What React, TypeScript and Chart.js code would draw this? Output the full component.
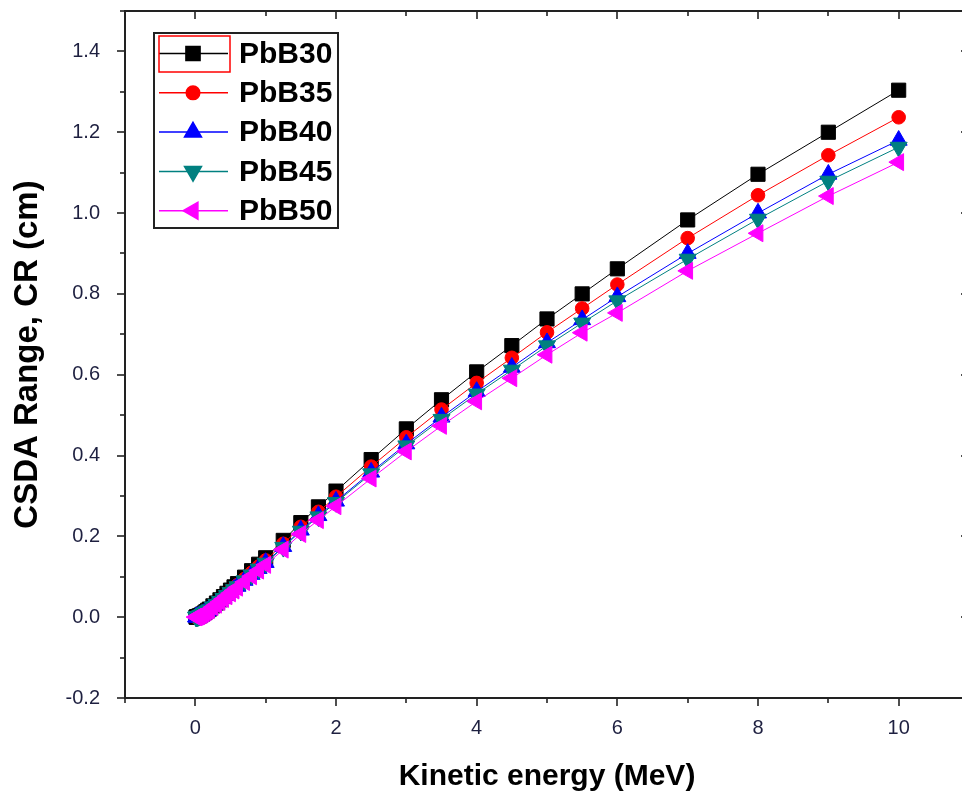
import React, { useEffect, useRef } from 'react';
import { Chart, registerables } from 'chart.js';
import { drawPoint } from 'chart.js/helpers';

Chart.register(...registerables);

// Kinetic energy (MeV)
const energies = [
  0.01, 0.015, 0.02, 0.03, 0.04, 0.05, 0.06, 0.08, 0.1,
  0.125, 0.15, 0.175, 0.2, 0.25, 0.3, 0.35, 0.4, 0.45, 0.5, 0.55, 0.6, 0.7, 0.8, 0.9,
  1, 1.25, 1.5, 1.75, 2, 2.5, 3, 3.5, 4, 4.5, 5, 5.5, 6, 7, 8, 9, 10,
];

// CSDA range (cm)
const pbB30 = [
  0.0002, 0.0003, 0.0005, 0.0011, 0.0017, 0.0024, 0.0032, 0.0051, 0.0073,
  0.0102, 0.0135, 0.017, 0.020, 0.028, 0.035, 0.043, 0.051, 0.059, 0.067, 0.075, 0.083, 0.099, 0.115, 0.131,
  0.147, 0.190, 0.234, 0.273, 0.312, 0.390, 0.466, 0.538, 0.607, 0.672, 0.738, 0.800, 0.862, 0.983, 1.096, 1.200, 1.304,
];
const pbB35 = [
  0.0002, 0.0003, 0.0005, 0.0011, 0.0016, 0.0023, 0.0031, 0.0049, 0.0070,
  0.0097, 0.0129, 0.0162, 0.0191, 0.0267, 0.0334, 0.0411, 0.0487, 0.0563, 0.0640, 0.0716, 0.0793, 0.0945, 0.1098, 0.1251,
  0.1404, 0.1815, 0.2235, 0.2607, 0.2980, 0.3725, 0.4450, 0.5138, 0.5797, 0.6418, 0.7048, 0.7640, 0.8232, 0.9380, 1.0440, 1.1430, 1.2370,
];
const pbB40 = [
  0.0002, 0.0003, 0.0005, 0.0010, 0.0016, 0.0022, 0.0029, 0.0047, 0.0067,
  0.0094, 0.0124, 0.0156, 0.0184, 0.0258, 0.0322, 0.0396, 0.0469, 0.0543, 0.0616, 0.0690, 0.0764, 0.0911, 0.1058, 0.1205,
  0.1352, 0.1748, 0.2153, 0.2512, 0.2870, 0.3588, 0.4287, 0.4950, 0.5584, 0.6182, 0.6790, 0.7360, 0.7930, 0.9000, 1.0000, 1.0960, 1.1800,
];
const pbB45 = [
  0.0002, 0.0003, 0.0005, 0.0010, 0.0015, 0.0022, 0.0029, 0.0046, 0.0066,
  0.0093, 0.0123, 0.0155, 0.0182, 0.0255, 0.0319, 0.0391, 0.0464, 0.0537, 0.0610, 0.0683, 0.0755, 0.0901, 0.1047, 0.1192,
  0.1338, 0.1729, 0.2129, 0.2484, 0.2839, 0.3549, 0.4241, 0.4896, 0.5524, 0.6115, 0.6716, 0.7280, 0.7830, 0.8860, 0.9850, 1.0790, 1.1630,
];
const pbB50 = [
  0.0002, 0.0003, 0.0004, 0.0010, 0.0015, 0.0021, 0.0028, 0.0045, 0.0064,
  0.0090, 0.0119, 0.0150, 0.0176, 0.0246, 0.0308, 0.0378, 0.0449, 0.0519, 0.0590, 0.0660, 0.0730, 0.0871, 0.1012, 0.1153,
  0.1294, 0.1672, 0.2059, 0.2402, 0.2746, 0.3432, 0.4101, 0.4735, 0.5341, 0.5914, 0.6494, 0.7040, 0.7530, 0.8570, 0.9500, 1.0420, 1.1260,
];

const seriesNames = ['PbB30', 'PbB35', 'PbB40', 'PbB45', 'PbB50'];
const seriesValues = [pbB30, pbB35, pbB40, pbB45, pbB50];
const seriesColors = ['#000000', '#ff0000', '#0000ff', '#008080', '#ff00ff'];
const seriesPointStyles = ['rect', 'circle', 'triangle', 'triangle', 'triangle'];
const seriesRotations = [0, 0, 0, 180, 270];
const seriesRadii = [10, 6.8, 9.8, 9.8, 9.8];

const xMajorTicks = [0, 2, 4, 6, 8, 10];
const xMinorTicks = [-1, 1, 3, 5, 7, 9, 11];
const yMajorTicks = [-0.2, 0, 0.2, 0.4, 0.6, 0.8, 1.0, 1.2, 1.4];
const yMinorTicks = [-0.1, 0.1, 0.3, 0.5, 0.7, 0.9, 1.1, 1.3, 1.5];

const xTitle = 'Kinetic energy (MeV)';
const yTitle = 'CSDA Range, CR (cm)';

const FONT = 'Arial, "Liberation Sans", Helvetica, sans-serif';
const TICK_COLOR = '#1e2040';
const CANVAS_W = 990;
const CANVAS_H = 797;

const framePlugin = {
  id: 'originFrame',
  afterDatasetsDraw(chart: any) {
    const { ctx, chartArea, scales } = chart;
    const { left, right, top, bottom } = chartArea;
    const xs = scales.x;
    const ys = scales.y;
    ctx.save();
    ctx.strokeStyle = '#222222';
    ctx.lineWidth = 2;
    ctx.strokeRect(left, top, right - left, bottom - top);
    ctx.lineWidth = 1.6;
    const line = (x1: number, y1: number, x2: number, y2: number) => {
      ctx.beginPath();
      ctx.moveTo(x1, y1);
      ctx.lineTo(x2, y2);
      ctx.stroke();
    };
    const majorLen = 8;
    const minorLen = 5;
    xMajorTicks.forEach((v) => {
      const px = Math.round(xs.getPixelForValue(v));
      line(px, bottom, px, bottom + majorLen);
      line(px, top, px, top + majorLen);
    });
    xMinorTicks.forEach((v) => {
      const px = Math.round(xs.getPixelForValue(v));
      line(px, bottom, px, bottom + minorLen);
      line(px, top, px, top + minorLen);
    });
    yMajorTicks.forEach((v) => {
      const py = Math.round(ys.getPixelForValue(v));
      line(left, py, left - majorLen, py);
      line(right, py, right - majorLen, py);
    });
    yMinorTicks.forEach((v) => {
      const py = Math.round(ys.getPixelForValue(v));
      line(left, py, left - minorLen, py);
      line(right, py, right - minorLen, py);
    });
    ctx.restore();
  },
};

const legendPlugin = {
  id: 'originLegend',
  afterDraw(chart: any) {
    const { ctx, chartArea } = chart;
    const bx = chartArea.left + 29;
    const by = chartArea.top + 22;
    const bw = 184;
    const bh = 195;
    ctx.save();
    ctx.fillStyle = '#ffffff';
    ctx.fillRect(bx, by, bw, bh);
    ctx.strokeStyle = '#222222';
    ctx.lineWidth = 2;
    ctx.strokeRect(bx, by, bw, bh);
    const rowStart = by + 20.5;
    const rowStep = 39.3;
    seriesNames.forEach((name, i) => {
      const cy = rowStart + i * rowStep;
      ctx.strokeStyle = seriesColors[i];
      ctx.lineWidth = 1.5;
      ctx.beginPath();
      ctx.moveTo(bx + 5, cy);
      ctx.lineTo(bx + 74, cy);
      ctx.stroke();
      ctx.fillStyle = seriesColors[i];
      ctx.strokeStyle = seriesColors[i];
      drawPoint(
        ctx,
        {
          pointStyle: seriesPointStyles[i] as any,
          rotation: seriesRotations[i],
          radius: seriesRadii[i],
          borderWidth: 1,
        } as any,
        bx + 39,
        cy
      );
      ctx.fillStyle = '#000000';
      ctx.font = `bold 30px ${FONT}`;
      ctx.textAlign = 'left';
      ctx.textBaseline = 'middle';
      ctx.fillText(name, bx + 85, cy + 1);
      if (i === 0) {
        ctx.strokeStyle = '#ff0000';
        ctx.lineWidth = 1.5;
        ctx.strokeRect(bx + 5, by + 3, 71, 36);
      }
    });
    ctx.restore();
  },
};

export default function App() {
  const canvasRef = useRef<HTMLCanvasElement | null>(null);

  useEffect(() => {
    const canvas = canvasRef.current;
    if (!canvas) return;
    const datasets = seriesNames.map((name, i) => ({
      label: name,
      data: energies.map((e, k) => ({ x: e, y: seriesValues[i][k] })),
      borderColor: seriesColors[i],
      backgroundColor: seriesColors[i],
      pointBackgroundColor: seriesColors[i],
      pointBorderColor: seriesColors[i],
      pointStyle: seriesPointStyles[i],
      pointRotation: seriesRotations[i],
      pointRadius: seriesRadii[i],
      pointBorderWidth: 1,
      borderWidth: 1,
      tension: 0,
      fill: false,
      clip: false,
      order: seriesNames.length - i,
    }));

    const chart = new Chart(canvas, {
      type: 'line',
      data: { datasets: datasets as any },
      options: {
        responsive: false,
        animation: false,
        devicePixelRatio: 1,
        layout: { padding: { top: 10, right: 21, left: 0, bottom: 0 } },
        plugins: {
          legend: { display: false },
          tooltip: { enabled: false },
        },
        scales: {
          x: {
            type: 'linear',
            min: -1,
            max: 11,
            grid: { display: false },
            border: { display: false },
            afterBuildTicks: (scale: any) => {
              scale.ticks = xMajorTicks.map((v) => ({ value: v }));
            },
            afterFit: (scale: any) => {
              scale.height = CANVAS_H - 698;
              scale.paddingLeft = 0;
              scale.paddingRight = 0;
              scale.paddingTop = 0;
              scale.paddingBottom = 0;
            },
            ticks: {
              padding: 10,
              color: TICK_COLOR,
              font: { family: FONT, size: 20 },
              maxRotation: 0,
              callback: (v: any) => String(v),
            },
            title: {
              display: true,
              text: xTitle,
              color: '#000000',
              font: { family: FONT, size: 30, weight: 'bold', lineHeight: 1.2 },
              padding: { top: 0, bottom: 2 },
            },
          },
          y: {
            type: 'linear',
            min: -0.2,
            max: 1.5,
            grid: { display: false },
            border: { display: false },
            afterBuildTicks: (scale: any) => {
              scale.ticks = yMajorTicks.map((v) => ({ value: v }));
            },
            afterFit: (scale: any) => {
              scale.width = 125;
              scale.paddingLeft = 0;
              scale.paddingRight = 0;
              scale.paddingTop = 0;
              scale.paddingBottom = 0;
            },
            ticks: {
              padding: 17,
              color: TICK_COLOR,
              font: { family: FONT, size: 20 },
              callback: (v: any) => Number(v).toFixed(1),
            },
            title: {
              display: true,
              text: yTitle,
              color: '#000000',
              font: { family: FONT, size: 33, weight: 'bold', lineHeight: 1.2 },
              padding: { top: 8, bottom: 0 },
            },
          },
        },
      },
      plugins: [framePlugin, legendPlugin],
    });

    return () => {
      chart.destroy();
    };
  }, []);

  return (
    <div
      style={{
        position: 'fixed',
        left: 0,
        top: 0,
        width: 962,
        height: 797,
        overflow: 'hidden',
        background: '#ffffff',
      }}
    >
      <canvas
        ref={canvasRef}
        width={CANVAS_W}
        height={CANVAS_H}
        style={{ width: CANVAS_W, height: CANVAS_H, display: 'block' }}
      />
    </div>
  );
}
